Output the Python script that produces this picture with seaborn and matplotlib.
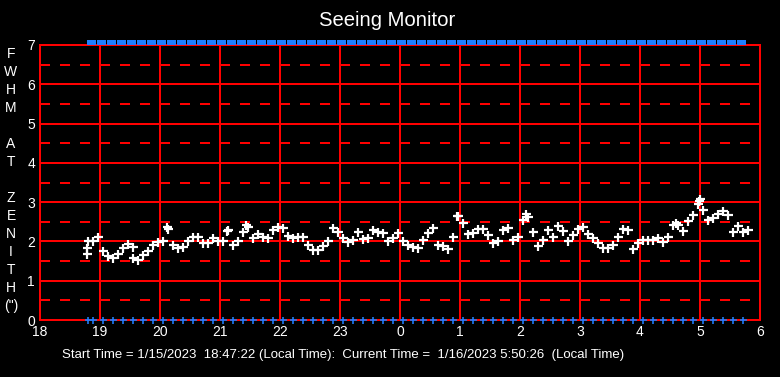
import numpy as np
import pandas as pd
import seaborn as sns
import matplotlib.pyplot as plt

# FWHM seeing readings, one every 5 minutes from 18:48 to 5:48 (local time)
first_reading = "18:48"
reading_step_min = 5
fwhm = [
    2.00, 2.02, 2.12, 1.75, 1.64, 1.58, 1.67, 1.83, 1.93, 1.87, 1.54, 1.65,
    1.75, 1.92, 1.98, 2.00, 2.32, 1.92, 1.83, 1.85, 2.00, 2.12, 2.11, 1.96,
    1.96, 2.08, 2.00, 2.00, 2.29, 1.92, 2.02, 2.25, 2.38, 2.08, 2.18, 2.12,
    2.10, 2.28, 2.38, 2.35, 2.15, 2.08, 2.12, 2.12, 1.92, 1.78, 1.79, 1.89,
    2.02, 2.35, 2.23, 2.08, 1.98, 2.04, 2.23, 2.07, 2.08, 2.28, 2.23, 2.21,
    2.02, 2.08, 2.21, 2.01, 1.91, 1.86, 1.83, 2.03, 2.21, 2.33, 1.92, 1.89,
    1.81, 2.12, 2.64, 2.46, 2.18, 2.21, 2.32, 2.32, 2.17, 1.96, 2.02, 2.29,
    2.33, 2.04, 2.12, 2.55, 2.62, 2.25, 1.88, 2.04, 2.29, 2.12, 2.40, 2.27,
    2.02, 2.17, 2.32, 2.38, 2.18, 2.08, 1.96, 1.83, 1.83, 1.90, 2.12, 2.32,
    2.29, 1.81, 1.96, 2.04, 2.04, 2.04, 2.08, 1.98, 2.12, 2.43, 2.43, 2.27,
    2.52, 2.67, 2.96, 2.79, 2.54, 2.60, 2.71, 2.77, 2.68, 2.25, 2.40, 2.25,
    2.29,
]

# scattered readings that stand off the main trace
extra_times = ["18:47", "18:47", "19:33", "20:07", "21:07", "21:26", "0:57",
               "2:06", "4:36", "4:59", "5:00"]
extra_fwhm = [1.83, 1.68, 1.58, 2.38, 2.27, 2.42, 2.66, 2.69, 2.48, 3.04, 3.08]

# status markers (top band / bottom row)
top_status_start, top_status_end = "18:51", "5:45"
bottom_status_times = ["18:48", "18:53"]
bottom_status_start, bottom_status_end = "19:03", "5:47"
status_step_min = 10

hour_ticks = list(range(18, 31))
hour_labels = [str(h % 24) for h in hour_ticks]
y_ticks = list(range(0, 8))

title = "Seeing Monitor"
y_label = "F\nW\nH\nM\n\nA\nT\n\nZ\nE\nN\nI\nT\nH\n(\")"
footer = ("Start Time = 1/15/2023  18:47:22 (Local Time):  "
          "Current Time =  1/16/2023 5:50:26  (Local Time)")


def to_hours(hhmm):
    h, m = map(int, hhmm.split(":"))
    if h < 12:
        h += 24
    return h + m / 60


def hour_grid(start, end, step_min):
    s, e = to_hours(start), to_hours(end)
    return np.arange(s, e + 1e-9, step_min / 60)


readings = pd.DataFrame({
    "hour": to_hours(first_reading) + np.arange(len(fwhm)) * reading_step_min / 60,
    "fwhm": fwhm,
})
extras = pd.DataFrame({"hour": [to_hours(t) for t in extra_times], "fwhm": extra_fwhm})
top_status = pd.DataFrame({"hour": hour_grid(top_status_start, top_status_end, status_step_min)})
top_status["level"] = 7.06
bottom_hours = [to_hours(t) for t in bottom_status_times] + list(
    hour_grid(bottom_status_start, bottom_status_end, status_step_min))
bottom_status = pd.DataFrame({"hour": bottom_hours, "level": 0.0})

sns.set_theme(style="dark")
plt.rcParams["font.family"] = ["Liberation Sans", "DejaVu Sans"]
plt.rcParams["lines.scale_dashes"] = False

red = "#ff0000"
blue = "#1e7fff"
px = 72 / 100  # points per pixel at dpi 100

fig = plt.figure(figsize=(7.8, 3.77), dpi=100, facecolor="black")
ax = fig.add_axes([40 / 780, 57 / 377, 720 / 780, 275 / 377])
ax.set_facecolor("black")

# grid: solid at whole units / hours, dashed at half units
for y in range(1, 7):
    ax.axhline(y, color=red, lw=2 * px, zorder=1)
for y in np.arange(0.5, 7, 1.0):
    ax.axhline(y, color=red, lw=2 * px, dashes=(10 * px, 10 * px), zorder=1)
for h in hour_ticks[1:-1]:
    ax.axvline(h, color=red, lw=2 * px, zorder=1)

sns.scatterplot(data=readings, x="hour", y="fwhm", marker="+", s=(9 * px) ** 2,
                color="white", linewidth=2.2 * px, ax=ax, zorder=3)
sns.scatterplot(data=extras, x="hour", y="fwhm", marker="+", s=(9 * px) ** 2,
                color="white", linewidth=2.2 * px, ax=ax, zorder=3)

box = [(-1, -0.5), (1, -0.5), (1, 0.5), (-1, 0.5), (-1, -0.5)]
sns.scatterplot(data=top_status, x="hour", y="level", marker=box, s=(9 * px) ** 2,
                color=blue, edgecolor="none", linewidth=0, ax=ax, zorder=5)
ax.collections[-1].set_clip_on(False)
sns.scatterplot(data=bottom_status, x="hour", y="level", marker="+", s=(7 * px) ** 2,
                color=blue, linewidth=1.6 * px, ax=ax, zorder=5)
ax.collections[-1].set_clip_on(False)

ax.set_xlim(18, 30)
ax.set_ylim(0, 7)
ax.set_xticks(hour_ticks)
ax.set_xticklabels(hour_labels)
ax.set_yticks(y_ticks)
ax.tick_params(colors="white", labelsize=10, length=0, pad=5 * px)
ax.set_xlabel("")
ax.set_ylabel("")
ax.grid(False)
for sp in ax.spines.values():
    sp.set_visible(True)
    sp.set_color(red)
    sp.set_linewidth(2 * px)
    sp.set_zorder(2)

fig.text(387 / 780, 1 - 20 / 377, title, color="white", fontsize=14.6,
         ha="center", va="center")
fig.text(11 / 780, 1 - 180 / 377, y_label, color="white", fontsize=10,
         ha="center", va="center", linespacing=1.37)
fig.text(62 / 780, 1 - 355 / 377, footer, color="white", fontsize=9.5,
         ha="left", va="center")

fig.savefig("out.png", dpi=100, facecolor="black")
